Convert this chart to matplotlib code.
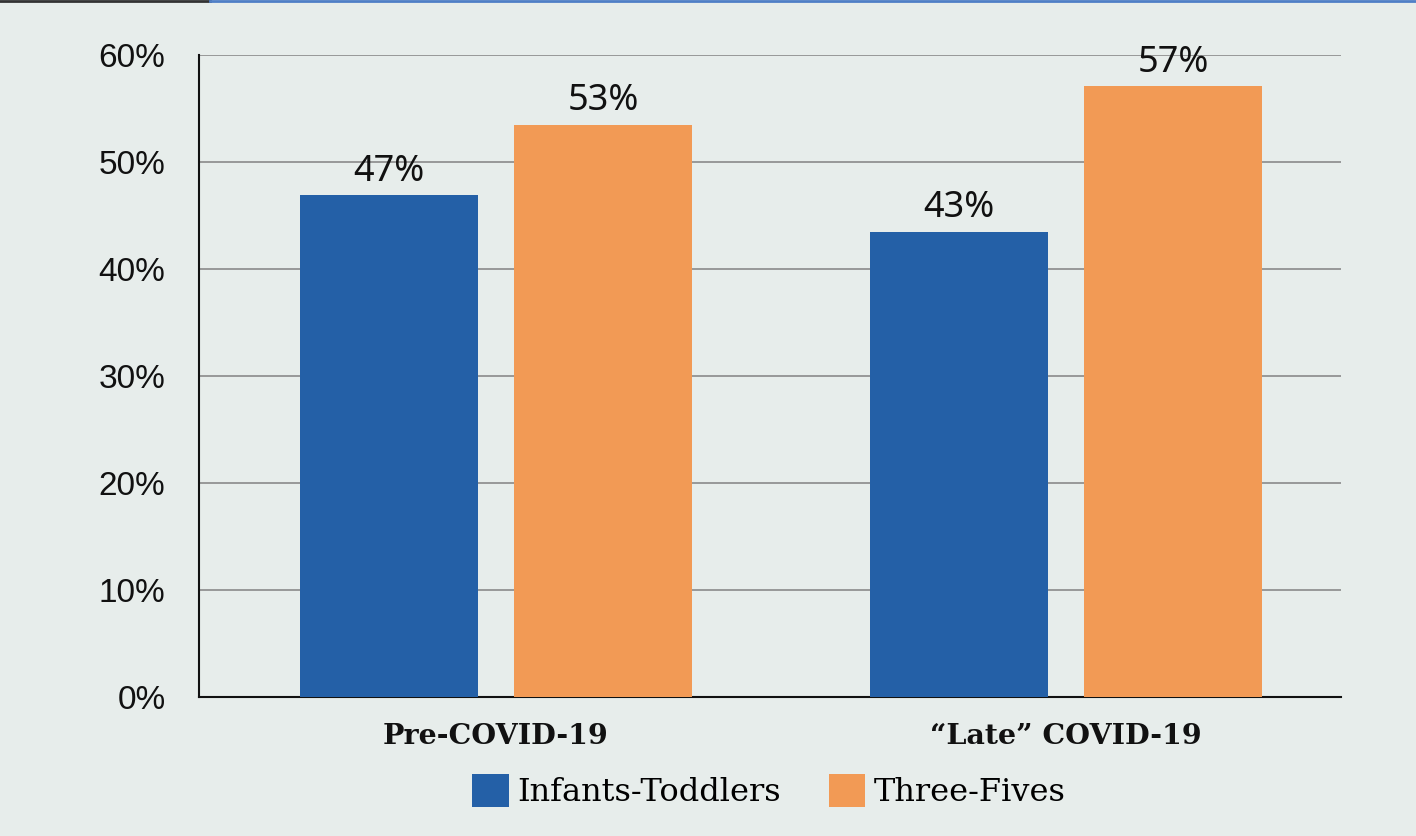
import matplotlib.pyplot as plt
from matplotlib.lines import Line2D
from matplotlib.patches import Patch
import numpy as np

periods = ["Pre-COVID-19", "\u201cLate\u201d COVID-19"]
groups = ["Infants-Toddlers", "Three-Fives"]
infants = [46.9, 43.5]
threes = [53.5, 57.1]
bar_labels = [["47%", "43%"], ["53%", "57%"]]
yticks = [0, 10, 20, 30, 40, 50, 60]

bg = "#E7EDEB"
blue = "#2460A7"
orange = "#F29A55"

fig = plt.figure(figsize=(14.16, 8.36), dpi=100, facecolor=bg)
ax = fig.add_axes([0.1405, 0.1663, 0.8065, 0.7677])
ax.set_facecolor(bg)

x = np.arange(len(periods))
w = 0.312
off = 0.1877
b1 = ax.bar(x - off, infants, w, color=blue, zorder=3)
b2 = ax.bar(x + off, threes, w, color=orange, zorder=3)

label_font = dict(family=["Noto Sans", "DejaVu Sans"], fontsize=26, color="#111111")
for bars, labs in zip([b1, b2], bar_labels):
    for rect, lab in zip(bars, labs):
        ax.text(rect.get_x() + rect.get_width() / 2, rect.get_height() + 0.5, lab,
                ha="center", va="bottom", zorder=4, **label_font)

ax.set_xlim(-0.521, 1.482)
ax.set_ylim(0, 60)
ax.set_yticks(yticks)
ax.set_yticklabels([f"{t}%" for t in yticks], family=["Liberation Sans Narrow", "Liberation Sans"],
                   fontsize=24, color="#111111")
ax.yaxis.grid(True, color="#8a8a8a", linewidth=1.2, zorder=0)
ax.tick_params(axis="y", length=0, pad=24)
ax.tick_params(axis="x", length=0, pad=19)
ax.set_xticks(x)
ax.set_xticklabels(periods, family=["DejaVu Serif"], fontweight="bold", fontsize=20.5, color="#111111")
for s in ["top", "right"]:
    ax.spines[s].set_visible(False)
ax.spines["left"].set_color("#111111")
ax.spines["bottom"].set_color("#111111")
ax.spines["left"].set_linewidth(1.5)
ax.spines["bottom"].set_linewidth(1.5)

handles = [Patch(facecolor=blue), Patch(facecolor=orange)]
fig.legend(handles, groups, loc="center", bbox_to_anchor=(0.543, 0.054), ncol=2, frameon=False,
           prop={"family": "DejaVu Serif", "size": 23}, handlelength=1.15, handleheight=1.25,
           handletextpad=0.25, columnspacing=1.5)

# thin rule at the top edge
fig.add_artist(Line2D([0, 0.148], [0.999, 0.999], color="#333333", linewidth=2))
fig.add_artist(Line2D([0.148, 1], [0.999, 0.999], color="#4F7FC6", linewidth=2))

plt.savefig("out.png", dpi=100, facecolor=bg)
